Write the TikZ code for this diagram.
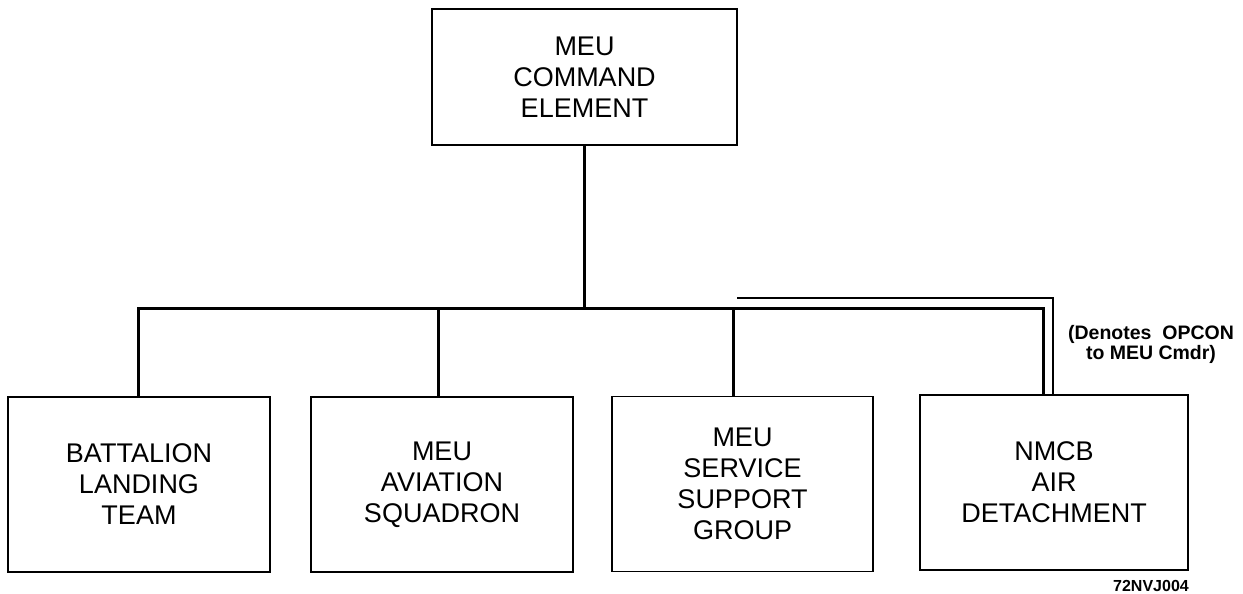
\documentclass[tikz,border=0pt]{standalone}
\usepackage{fontspec}
\setmainfont{Liberation Sans}
\usetikzlibrary{positioning}

\begin{document}
\begin{tikzpicture}[x=1pt, y=-1pt, unit/.style = {shape=rectangle, draw, line width=1.6pt, align=center, fill=white, inner sep=0pt, minimum height=175pt, minimum width=262pt, font=\fontsize{27}{31}\selectfont}, bus/.style = {line width=3pt}, opline/.style = {line width=1.6pt}, note/.style = {align=center, font=\bfseries\fontsize{19.5}{20}\selectfont}]
	\useasboundingbox (0,0) rectangle (1243,594);
	\node[unit, minimum width=305pt, minimum height=136pt] (cmd) at (584.5,77) {MEU\\COMMAND\\ELEMENT};
	\node[unit] (blt) at (139,484.5) {BATTALION\\LANDING\\TEAM};
	\node[unit] (avn) at (442,484.5) {MEU\\AVIATION\\SQUADRON};
	\node[unit, minimum width=261pt] (ssg) at (742.5,484) {MEU\\SERVICE\\SUPPORT\\GROUP};
	\node[unit, minimum width=268pt] (nmcb) at (1054,482.5) {NMCB\\AIR\\DETACHMENT};
	\coordinate (bus) at (584.5,308);
	\coordinate (avntop) at ([xshift=-4pt]avn.north);
	\coordinate (ssgtop) at ([xshift=-9pt]ssg.north);
	\coordinate (opc) at (737,298);
	% chain of command
	\draw[bus] (cmd.south) -- (bus);
	\draw[bus] ([xshift=-1pt]blt.north) |- (bus) -| ([xshift=-11pt]nmcb.north);
	\draw[bus] (avntop) -- (avntop |- bus);
	\draw[bus] (ssgtop) -- (ssgtop |- bus);
	% opcon line
	\draw[opline] (opc) -| ([xshift=-1pt]nmcb.north);
	\node[note] (opcon) at (1151,344) {(Denotes\ \ OPCON\\to\ MEU\ Cmdr)};
	\node[note, font=\bfseries\fontsize{16}{17}\selectfont] (fig) at (1151,586) {72NVJ004};
\end{tikzpicture}
\end{document}
